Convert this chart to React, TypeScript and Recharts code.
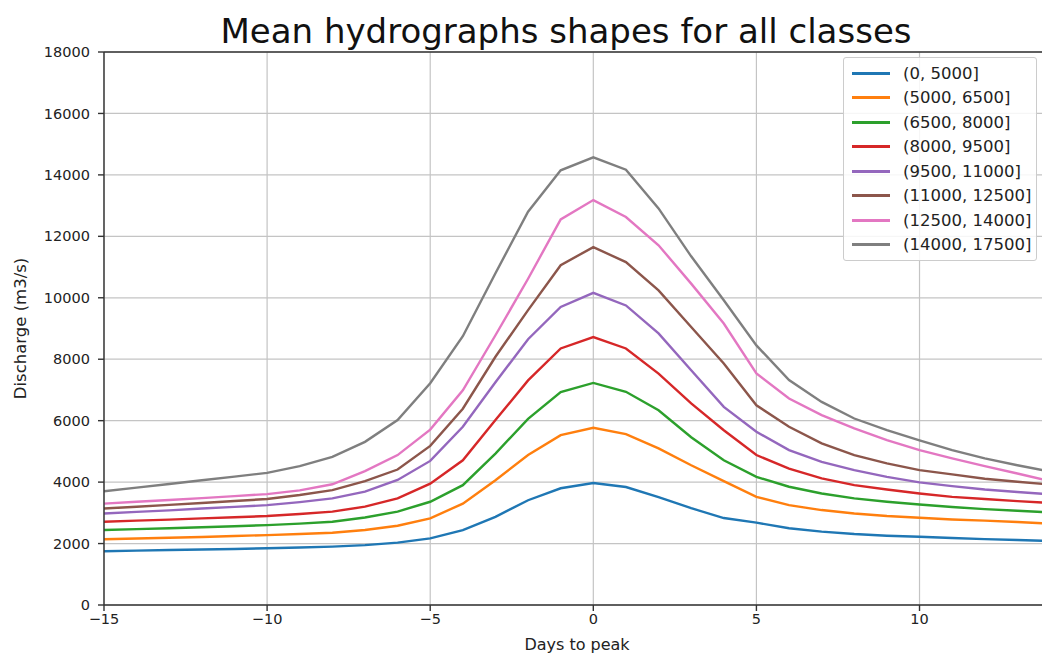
import {
  CartesianGrid,
  Legend,
  Line,
  LineChart,
  ReferenceLine,
  XAxis,
  YAxis,
} from "recharts";

// days relative to the peak
const days = [
  -15, -14, -13, -12, -11, -10, -9, -8, -7, -6, -5, -4, -3, -2, -1, 0, 1, 2, 3, 4, 5, 6, 7, 8, 9, 10,
  11, 12, 13, 14,
];

const class0To5000 = [
  1750, 1770, 1790, 1805, 1825, 1845, 1870, 1900, 1950, 2030, 2170, 2440, 2870, 3410, 3800, 3970,
  3840, 3510, 3150, 2830, 2680, 2500, 2390, 2310, 2255, 2220, 2180, 2145, 2115, 2085,
];
const class5000To6500 = [
  2140, 2165, 2190, 2215, 2245, 2275, 2310, 2350, 2440, 2580, 2820, 3300, 4060, 4880, 5530, 5770,
  5560, 5100, 4550, 4030, 3520, 3250, 3090, 2980, 2895, 2840, 2785, 2745, 2700, 2650,
];
const class6500To8000 = [
  2440, 2470, 2500, 2530, 2565, 2600, 2650, 2710, 2850, 3040, 3360, 3900, 4930, 6060, 6930, 7230,
  6940, 6340, 5460, 4710, 4170, 3850, 3630, 3470, 3360, 3270, 3190, 3120, 3070, 3010,
];
const class8000To9500 = [
  2710, 2745, 2780, 2820, 2855, 2895, 2960, 3040, 3200, 3470, 3950, 4710, 6020, 7310, 8350, 8720,
  8350, 7530, 6560, 5690, 4880, 4440, 4120, 3900, 3760, 3630, 3520, 3450, 3380, 3320,
];
const class9500To11000 = [
  2980, 3030, 3080, 3140, 3195, 3250, 3350, 3470, 3690, 4070, 4690, 5800, 7250, 8650, 9700, 10160,
  9750, 8840, 7640, 6450, 5640, 5040, 4660, 4390, 4170, 3990, 3870, 3760, 3680, 3600,
];
const class11000To12500 = [
  3140, 3200, 3260, 3320, 3385, 3450, 3580, 3740, 4030, 4410, 5180, 6390, 8080, 9600, 11060, 11650,
  11160, 10240, 9050, 7860, 6500, 5800, 5260, 4880, 4610, 4390, 4250, 4110, 4010, 3920,
];
const class12500To14000 = [
  3300, 3360, 3420, 3480, 3545, 3610, 3730, 3930, 4360, 4880, 5710, 6990, 8780, 10620, 12550, 13180,
  12630, 11710, 10460, 9160, 7540, 6720, 6180, 5750, 5370, 5040, 4770, 4520, 4280, 4030,
];
const class14000To17500 = [
  3700, 3820, 3940, 4060, 4180, 4300, 4520, 4820, 5310, 6020, 7220, 8750, 10800, 12800, 14150, 14570,
  14170, 12910, 11350, 9920, 8450, 7320, 6610, 6070, 5690, 5360, 5040, 4770, 4550, 4340,
];

const xTicks = [-15, -10, -5, 0, 5, 10];
const yTicks = [0, 2000, 4000, 6000, 8000, 10000, 12000, 14000, 16000, 18000];

const series = [
  { key: "c1", name: "(0, 5000]", color: "#1f77b4", values: class0To5000 },
  { key: "c2", name: "(5000, 6500]", color: "#ff7f0e", values: class5000To6500 },
  { key: "c3", name: "(6500, 8000]", color: "#2ca02c", values: class6500To8000 },
  { key: "c4", name: "(8000, 9500]", color: "#d62728", values: class8000To9500 },
  { key: "c5", name: "(9500, 11000]", color: "#9467bd", values: class9500To11000 },
  { key: "c6", name: "(11000, 12500]", color: "#8c564b", values: class11000To12500 },
  { key: "c7", name: "(12500, 14000]", color: "#e377c2", values: class12500To14000 },
  { key: "c8", name: "(14000, 17500]", color: "#7f7f7f", values: class14000To17500 },
];

const rows = days.map((day, i) => {
  const row: Record<string, number> = { day };
  series.forEach((s) => {
    row[s.key] = s.values[i]!;
  });
  return row;
});

const FONT = "DejaVu Sans, Verdana, sans-serif";
const AXIS = "#333333";
const TEXT = "#222222";

function minus(v: number): string {
  return String(v).replace("-", "\u2212");
}

function LegendBox() {
  return (
    <div
      style={{
        border: "1px solid #cccccc",
        borderRadius: 3,
        background: "rgba(255,255,255,0.85)",
        padding: "3px 2px 3px 8px",
        fontFamily: FONT,
        fontSize: 16.5,
        color: TEXT,
        width: "100%",
        boxSizing: "border-box",
      }}
    >
      {series.map((s) => (
        <div key={s.key} style={{ display: "flex", alignItems: "center", height: 24.5 }}>
          <span
            style={{
              display: "inline-block",
              width: 38,
              height: 3,
              background: s.color,
              marginRight: 13,
              flexShrink: 0,
            }}
          />
          <span style={{ whiteSpace: "nowrap" }}>{s.name}</span>
        </div>
      ))}
    </div>
  );
}

export default function App() {
  return (
    <div
      style={{
        position: "fixed",
        left: 0,
        top: 0,
        width: 1042,
        height: 657,
        overflow: "hidden",
        background: "#fff",
        fontFamily: FONT,
      }}
    >
      <div
        style={{
          position: "absolute",
          left: 0,
          top: 14,
          width: 1132,
          textAlign: "center",
          fontSize: 34,
          lineHeight: 1,
          color: "#111",
          whiteSpace: "nowrap",
        }}
      >
        Mean hydrographs shapes for all classes
      </div>
      <LineChart
        width={1060}
        height={657}
        data={rows}
        margin={{ top: 52, right: 10, bottom: 0, left: 0 }}
        style={{ position: "absolute", left: 0, top: 0 }}
      >
        <CartesianGrid stroke="#c4c4c4" strokeWidth={1.2} />
        <XAxis
          dataKey="day"
          type="number"
          domain={[-15, 14]}
          ticks={xTicks}
          allowDataOverflow
          height={52}
          tickSize={6}
          tickMargin={3}
          stroke={AXIS}
          strokeWidth={1.4}
          tick={{ fill: TEXT, fontSize: 14.5, fontFamily: FONT }}
          tickFormatter={minus}
          label={{
            value: "Days to peak",
            position: "insideBottom",
            offset: 7,
            fill: TEXT,
            fontSize: 16,
            fontFamily: FONT,
          }}
        />
        <YAxis
          type="number"
          domain={[0, 18000]}
          ticks={yTicks}
          width={104}
          tickSize={6}
          tickMargin={8}
          stroke={AXIS}
          strokeWidth={1.4}
          tick={{ fill: TEXT, fontSize: 14.5, fontFamily: FONT }}
          label={{
            value: "Discharge (m3/s)",
            angle: -90,
            position: "insideLeft",
            offset: 20,
            fill: TEXT,
            fontSize: 16.5,
            fontFamily: FONT,
            style: { textAnchor: "middle" },
          }}
        />
        <ReferenceLine y={18000} stroke={AXIS} strokeWidth={1.4} />
        {series.map((s) => (
          <Line
            key={s.key}
            dataKey={s.key}
            name={s.name}
            type="linear"
            stroke={s.color}
            strokeWidth={2.4}
            dot={false}
            activeDot={false}
            isAnimationActive={false}
          />
        ))}
        <Legend
          layout="vertical"
          align="center"
          verticalAlign="middle"
          content={() => <LegendBox />}
          wrapperStyle={{ top: 57, left: 843, width: 194, height: "auto" }}
        />
      </LineChart>
    </div>
  );
}
